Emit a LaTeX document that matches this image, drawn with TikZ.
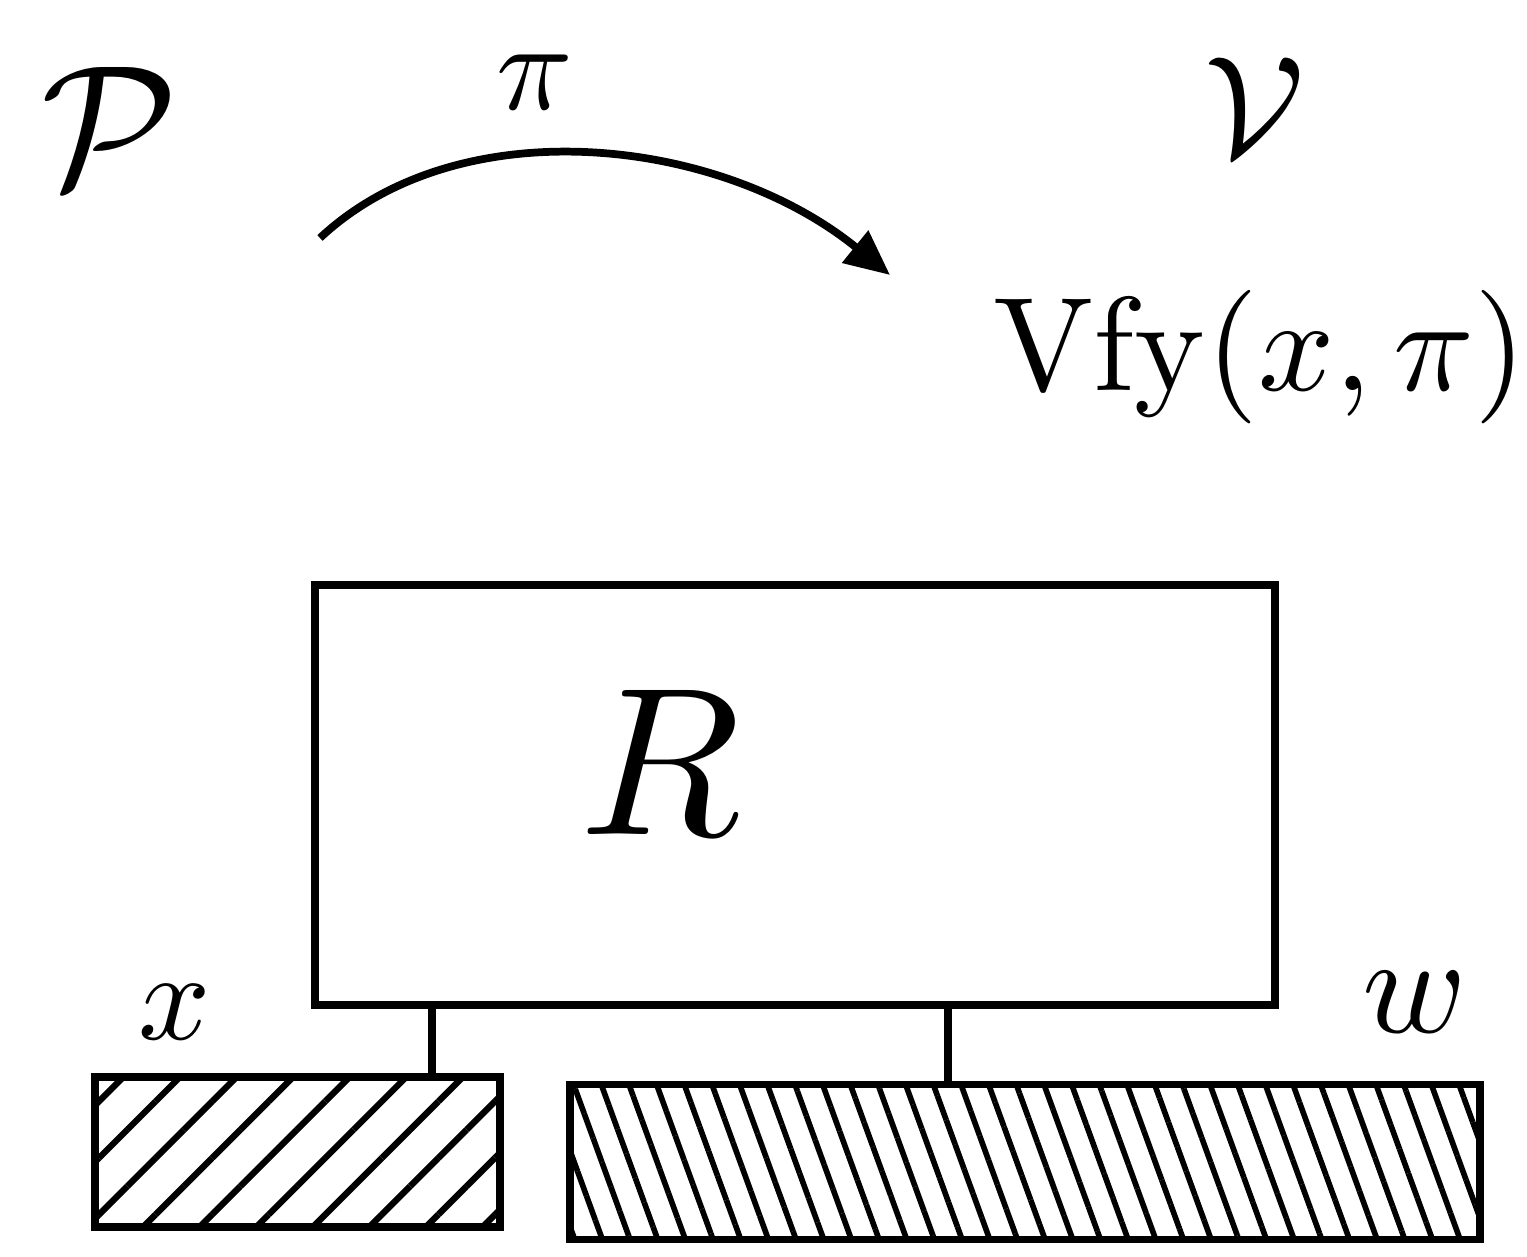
\documentclass[tikz,border=0pt]{standalone}
\usepackage{amsmath,amssymb}
\usepackage{tikz}
\usetikzlibrary{arrows.meta,positioning,patterns.meta}

\begin{document}
\begin{tikzpicture}[
  >={Triangle[length=4.5mm,width=4mm]},
  line width=2.2pt,
  party/.style={inner sep=0pt,scale=5},
  msg/.style={inner sep=0pt,scale=4},
  relbox/.style={draw,minimum width=9.6cm,minimum height=4.2cm},
  tape/.style={draw,minimum height=1.5cm},
  xhatch/.style={pattern={Lines[angle=45,distance=4mm,line width=1.8pt]}},
  whatch/.style={pattern={Lines[angle=-70,distance=2.6mm,line width=1.6pt]}},
  flow/.style={->,line width=2.2pt},
  link/.style={line width=2.2pt}
]
\useasboundingbox (0,0) rectangle (15.27,12.57);

\node[party] (prover)   at (1.1,11.3)  {$\mathcal{P}$};
\node[party,scale=0.82] (verifier) at (12.55,11.5) {$\mathcal{V}$};
\node[msg,scale=0.9]   (proof)    at (5.35,11.75)  {$\pi$};
\node[msg,scale=0.95] (vfy) at (12.6,9.0) {$\mathrm{Vfy}(x,\pi)$};

\coordinate (sent) at (3.2,10.19);
\coordinate (recv) at (8.9,9.82);
\draw[flow] (sent) .. controls (4.6,11.5) and (7.2,11.2) .. (recv);

\node[relbox] (rel) at (7.95,4.62) {};
\node[party,scale=1.2] (rlabel) at (6.6,4.95) {$R$};

\node[tape,xhatch,minimum width=4.05cm] (xtape) at (2.975,1.05) {};
\node[tape,whatch,minimum width=9.1cm,minimum height=1.55cm] (wtape) at (10.25,0.95) {};
\node[msg,scale=0.9] (xlabel) at (1.75,2.45) {$x$};
\node[msg] (wlabel) at (14.15,2.55) {$w$};

\coordinate (xpin) at (4.32,0);
\coordinate (wpin) at (9.48,0);
\draw[link] (xpin |- rel.south) -- (xpin |- xtape.north);
\draw[link] (wpin |- rel.south) -- (wpin |- wtape.north);
\end{tikzpicture}
\end{document}
